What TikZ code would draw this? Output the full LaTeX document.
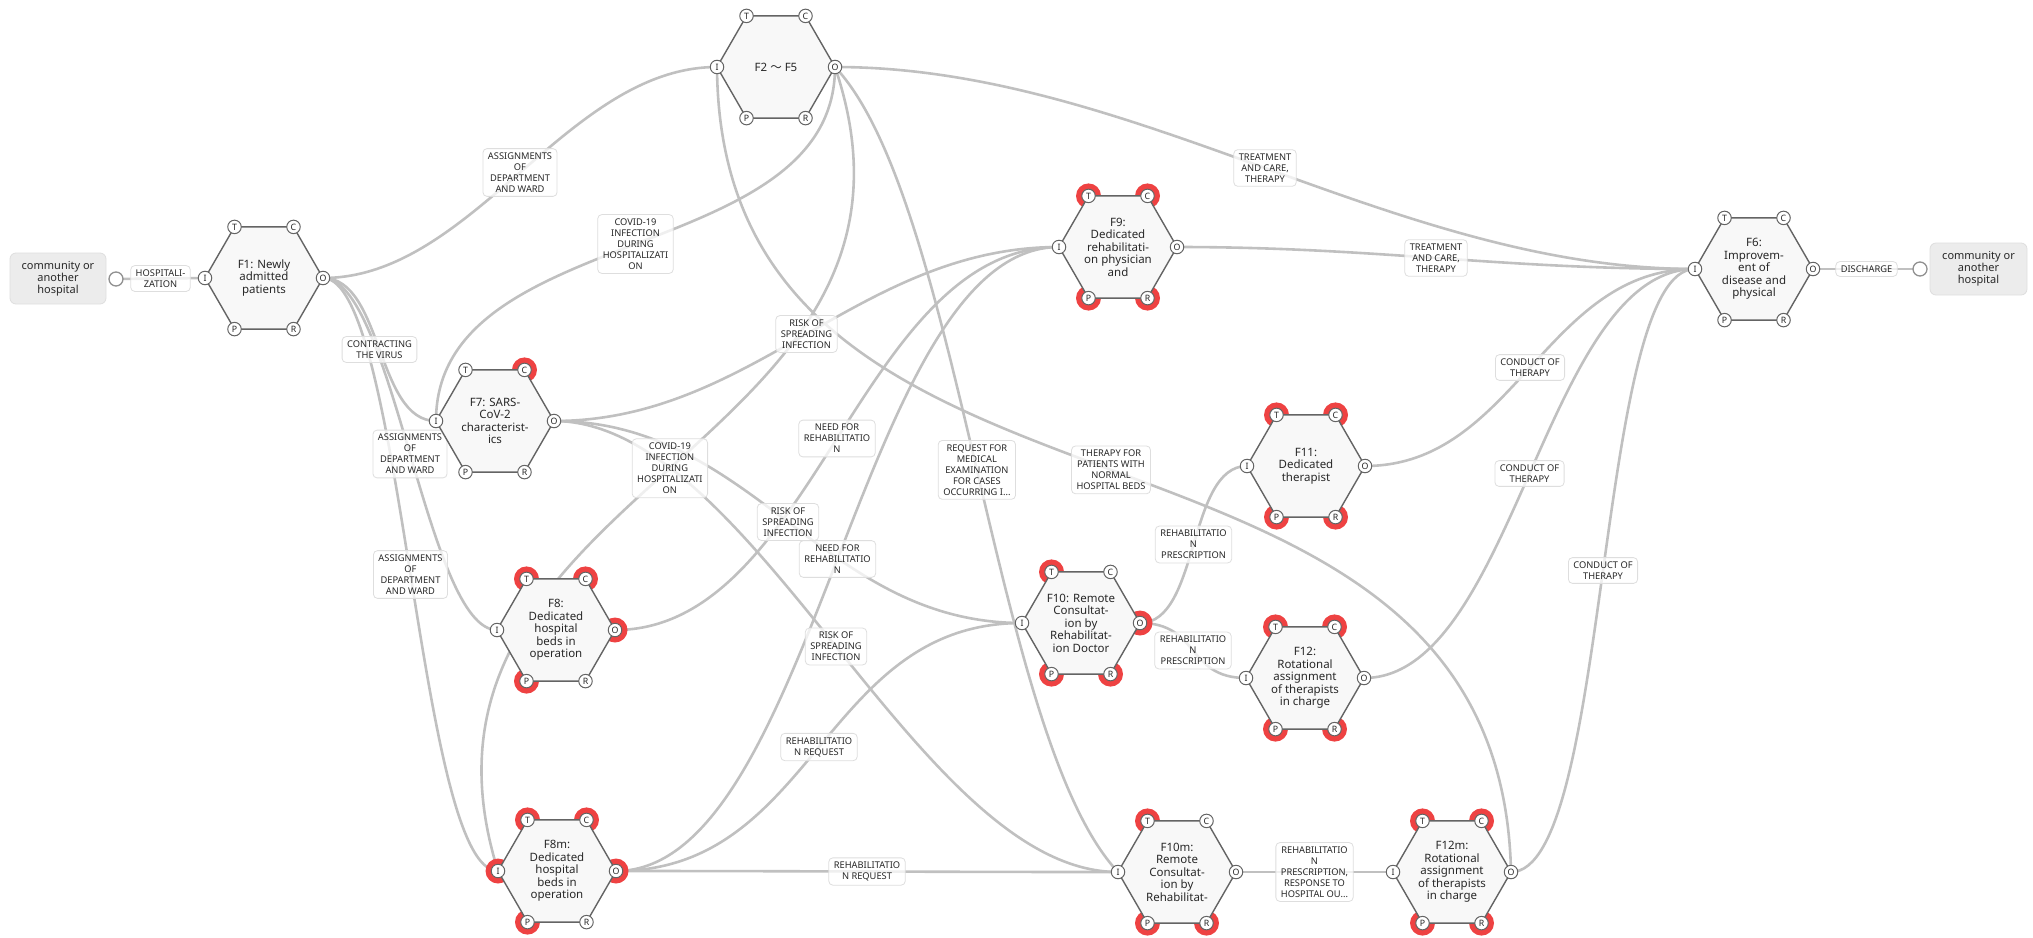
\documentclass[tikz,border=0pt]{standalone}
\usepackage{fontspec}
\setmainfont{Noto Sans}
\newfontfamily\cjkfont{Noto Sans CJK JP}
\usetikzlibrary{calc}
\definecolor{linec}{RGB}{192,192,192}
\definecolor{hexfill}{RGB}{248,248,248}
\definecolor{hexdraw}{RGB}{100,100,100}
\definecolor{halocol}{RGB}{238,66,66}
\definecolor{lblborder}{RGB}{222,222,222}
\definecolor{boxfill}{RGB}{236,236,236}
\definecolor{txt}{RGB}{40,40,40}
\tikzset{
  conn/.style={draw=linec, line width=2.6pt},
  lbl/.style={draw=lblborder, line width=0.8pt, fill=white, fill opacity=0.75, text opacity=1,
    rounded corners=4pt, align=center, inner xsep=5pt, inner ysep=4pt,
    font=\fontsize{9.3}{11}\selectfont, text=txt},
  hexd/.style={draw=hexdraw, line width=1.4pt, fill=hexfill, line join=round},
  ftext/.style={align=center, font=\fontsize{11.5}{12.5}\selectfont, text=txt, inner sep=0pt},
  asp/.style={circle, draw=hexdraw, line width=1pt, fill=white, inner sep=0pt, minimum size=13.5pt,
    font=\fontsize{8.8}{8.8}\selectfont, text=txt},
  ext/.style={rectangle, rounded corners=6pt, fill=boxfill, draw=lblborder, line width=0.8pt,
    align=center, font=\fontsize{11}{12.2}\selectfont, text=txt},
  endc/.style={circle, draw=linec!75!black, line width=1.3pt, fill=white, minimum size=14pt, inner sep=0pt},
}
\newcommand\fdef[3]{\path (#2,#3) coordinate (#1) +(180:59) coordinate (#1I) +(0:59) coordinate (#1O)
  +(-120:59) coordinate (#1T) +(-60:59) coordinate (#1C) +(120:59) coordinate (#1P) +(60:59) coordinate (#1R);}
\newcommand\fbody[2]{%
  \draw[hexd] (#1I) -- (#1T) -- (#1C) -- (#1O) -- (#1R) -- (#1P) -- cycle;
  \node[ftext] (#1txt) at (#1) {#2};
  \foreach \a in {T,C,I,O,P,R} {\node[asp] (#1-\a) at (#1\a) {\a};}
}
\begin{document}
\begin{tikzpicture}[x=1pt,y=-1pt]
\useasboundingbox (0,0) rectangle (2033,937);
% function positions
\fdef{f1}{264}{278}
\fdef{f2}{776}{67}
\fdef{f9}{1118}{247}
\fdef{f6}{1754}{269}
\fdef{f7}{495}{421}
\fdef{f8}{556}{630}
\fdef{f10}{1081}{623}
\fdef{f11}{1306}{466}
\fdef{f12}{1305}{678}
\fdef{f8m}{557}{871}
\fdef{f10m}{1177}{872}
\fdef{f12m}{1452}{872}
\coordinate (inC) at (116,279);
\coordinate (outC) at (1920,269);
% connectors
\draw[conn] (inC) -- (f1I) coordinate[pos=.5] (mH);
\draw[conn] (f6O) -- (outC) coordinate[pos=.5] (mD);
\draw[conn] (f1O) .. controls +(150,0) and +(-150,0) .. (f2I) coordinate[pos=.5] (m1);
\draw[conn] (f1O) .. controls +(60,0) and +(-60,0) .. (f7I) coordinate[pos=.5] (m2);
\draw[conn] (f1O) .. controls +(70,0) and +(-70,0) .. (f8I) coordinate[pos=.5] (m3);
\draw[conn] (f1O) .. controls +(80,0) and +(-80,0) .. (f8mI) coordinate[pos=.5] (m4);
\draw[conn] (f2O) .. controls +(300,0) and +(-300,0) .. (f6I) coordinate[pos=.5] (m5);
\draw[conn] (f2O) .. controls +(0,200) and +(0,-200) .. (f7I) coordinate[pos=.5] (m6);
\draw[conn] (f2O) .. controls (965,452) and (377,484) .. (f8mI) coordinate[pos=.5] (m7);
\draw[conn] (f2O) .. controls (960,200) and (994,740) .. (f10mI) coordinate[pos=.5] (m8);
\draw[conn] (f12mO) .. controls (1500,360) and (720,580) .. (f2I) coordinate[pos=.5] (m9);
\draw[conn] (f7O) .. controls +(200,0) and +(-200,0) .. (f9I) coordinate[pos=.5] (m10);
\draw[conn] (f7O) .. controls +(200,0) and +(-200,0) .. (f10I) coordinate[pos=.5] (m11);
\draw[conn] (f7O) .. controls +(200,0) and +(-200,0) .. (f10mI) coordinate[pos=.5] (m12);
\draw[conn] (f8O) .. controls +(200,0) and +(-200,0) .. (f9I) coordinate[pos=.5] (m13);
\draw[conn] (f8mO) .. controls +(200,0) and +(-200,0) .. (f9I) coordinate[pos=.5] (m14);
\draw[conn] (f8mO) .. controls +(200,0) and +(-200,0) .. (f10I) coordinate[pos=.5] (m15);
\draw[conn] (f8mO) .. controls +(200,0) and +(-200,0) .. (f10mI) coordinate[pos=.5] (m16);
\draw[conn] (f9O) .. controls +(200,0) and +(-200,0) .. (f6I) coordinate[pos=.5] (m17);
\draw[conn] (f10O) .. controls +(60,0) and +(-60,0) .. (f11I) coordinate[pos=.5] (m18);
\draw[conn] (f10O) .. controls +(60,0) and +(-60,0) .. (f12I) coordinate[pos=.5] (m19);
\draw[conn] (f11O) .. controls +(150,0) and +(-150,0) .. (f6I) coordinate[pos=.5] (m20);
\draw[conn] (f12O) .. controls +(150,0) and +(-150,0) .. (f6I) coordinate[pos=.5] (m21);
\draw[conn] (f12mO) .. controls +(100,0) and +(-100,0) .. (f6I) coordinate[pos=.5] (m22);
\draw[conn] (f10mO) .. controls +(50,0) and +(-50,0) .. (f12mI) coordinate[pos=.5] (m23);
% labels
\node[lbl] (lH) at (mH) {HOSPITALI-\\ZATION};
\node[lbl] (lD) at (mD) {DISCHARGE};
\node[lbl] (l1) at (m1) {ASSIGNMENTS\\OF\\DEPARTMENT\\AND WARD};
\node[lbl] (l2) at (m2) {CONTRACTING\\THE VIRUS};
\node[lbl] (l3) at (m3) {ASSIGNMENTS\\OF\\DEPARTMENT\\AND WARD};
\node[lbl] (l4) at (m4) {ASSIGNMENTS\\OF\\DEPARTMENT\\AND WARD};
\node[lbl] (l5) at (m5) {TREATMENT\\AND CARE,\\THERAPY};
\node[lbl] (l6) at (m6) {COVID-19\\INFECTION\\DURING\\HOSPITALIZATI\\ON};
\node[lbl] (l7) at (m7) {COVID-19\\INFECTION\\DURING\\HOSPITALIZATI\\ON};
\node[lbl] (l8) at (m8) {REQUEST FOR\\MEDICAL\\EXAMINATION\\FOR CASES\\OCCURRING I...};
\node[lbl] (l9) at (m9) {THERAPY FOR\\PATIENTS WITH\\NORMAL\\HOSPITAL BEDS};
\node[lbl] (l10) at (m10) {RISK OF\\SPREADING\\INFECTION};
\node[lbl] (l11) at (m11) {RISK OF\\SPREADING\\INFECTION};
\node[lbl] (l12) at (m12) {RISK OF\\SPREADING\\INFECTION};
\node[lbl] (l13) at (m13) {NEED FOR\\REHABILITATIO\\N};
\node[lbl] (l14) at (m14) {NEED FOR\\REHABILITATIO\\N};
\node[lbl] (l15) at (m15) {REHABILITATIO\\N REQUEST};
\node[lbl] (l16) at (m16) {REHABILITATIO\\N REQUEST};
\node[lbl] (l17) at (m17) {TREATMENT\\AND CARE,\\THERAPY};
\node[lbl] (l18) at (m18) {REHABILITATIO\\N\\PRESCRIPTION};
\node[lbl] (l19) at (m19) {REHABILITATIO\\N\\PRESCRIPTION};
\node[lbl] (l20) at (m20) {CONDUCT OF\\THERAPY};
\node[lbl] (l21) at (m21) {CONDUCT OF\\THERAPY};
\node[lbl] (l22) at (m22) {CONDUCT OF\\THERAPY};
\node[lbl] (l23) at (m23) {REHABILITATIO\\N\\PRESCRIPTION,\\RESPONSE TO\\HOSPITAL OU...};
% halos
\foreach \p in {f7C, f8T,f8C,f8O,f8P, f8mT,f8mC,f8mI,f8mO,f8mP,
  f9T,f9C,f9P,f9R, f10T,f10O,f10P,f10R, f11T,f11C,f11P,f11R,
  f12T,f12C,f12P,f12R, f10mT,f10mP,f10mR, f12mT,f12mC,f12mP,f12mR}
  {\fill[halocol] (\p) circle (12.5pt);}
% functions
\fbody{f1}{\textbf{F1}: Newly\\admitted\\patients}
\fbody{f2}{F2 {\cjkfont 〜} F5}
\fbody{f9}{F9:\\Dedicated\\rehabilitati-\\on physician\\and}
\fbody{f6}{F6:\\Improvem-\\ent of\\disease and\\physical}
\fbody{f7}{F7: SARS-\\CoV-2\\characterist-\\ics}
\fbody{f8}{F8:\\Dedicated\\hospital\\beds in\\operation}
\fbody{f10}{F10: Remote\\Consultat-\\ion by\\Rehabilitat-\\ion Doctor}
\fbody{f11}{F11:\\Dedicated\\therapist}
\fbody{f12}{F12:\\Rotational\\assignment\\of therapists\\in charge}
\fbody{f8m}{F8m:\\Dedicated\\hospital\\beds in\\operation}
\fbody{f10m}{F10m:\\Remote\\Consultat-\\ion by\\Rehabilitat-}
\fbody{f12m}{F12m:\\Rotational\\assignment\\of therapists\\in charge}
% external
\node[endc] (inCn) at (inC) {};
\node[endc] (outCn) at (outC) {};
\node[ext, minimum width=96pt, minimum height=51pt] (src) at (58,278.5) {community or\\another\\hospital};
\node[ext, minimum width=97pt, minimum height=52pt] (dst) at (1978.5,269) {community or\\another\\hospital};
\end{tikzpicture}
\end{document}
